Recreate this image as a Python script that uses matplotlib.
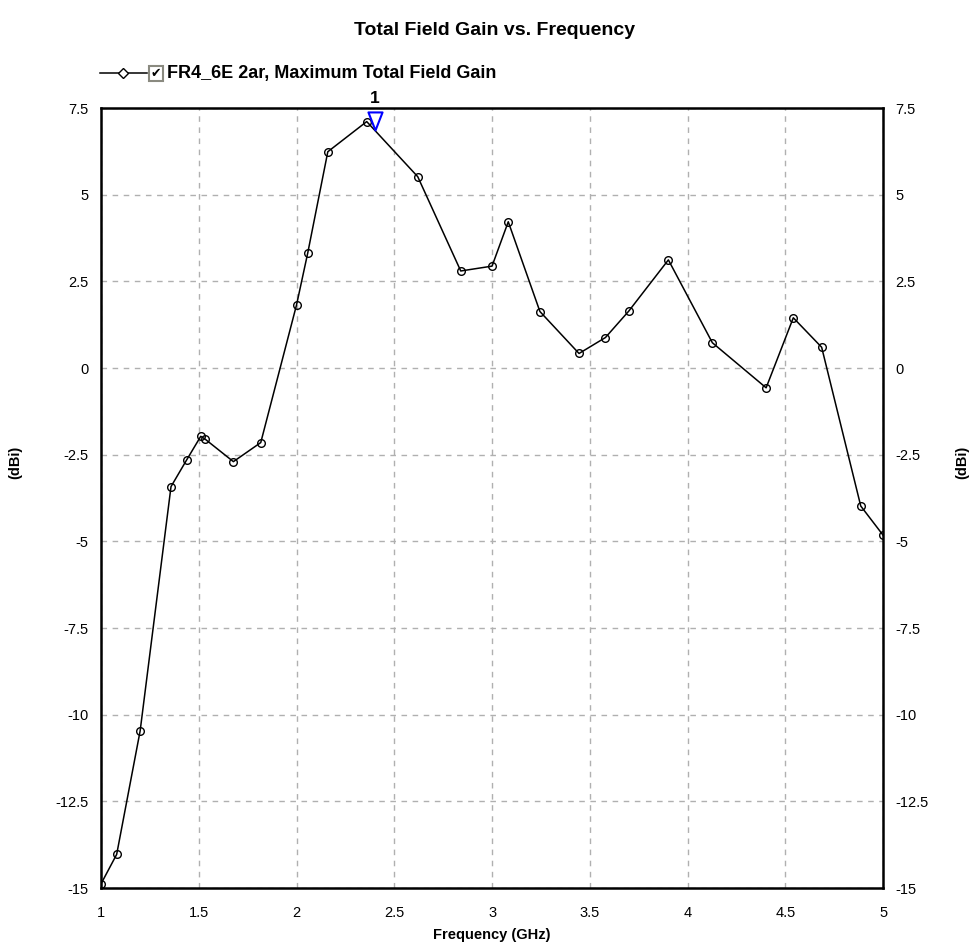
import numpy as np
import matplotlib
matplotlib.use("Agg")
import matplotlib.pyplot as plt
from matplotlib.patches import Rectangle
from matplotlib.lines import Line2D
from matplotlib.path import Path

plt.rcParams['font.family'] = ['Liberation Sans', 'DejaVu Sans']

# frequency sweep (GHz) and max total field gain (dBi)
freq = [1.0, 1.08, 1.2, 1.358, 1.438, 1.51, 1.53, 1.677, 1.817, 2.0, 2.057,
        2.16, 2.359, 2.62, 2.84, 3.0, 3.083, 3.245, 3.445, 3.58, 3.699,
        3.902, 4.127, 4.402, 4.541, 4.686, 4.886, 5.0]
gain = [-14.88, -14.03, -10.47, -3.42, -2.65, -1.97, -2.04, -2.70, -2.15, 1.82, 3.31,
        6.24, 7.11, 5.52, 2.80, 2.94, 4.22, 1.63, 0.42, 0.88, 1.64,
        3.12, 0.73, -0.57, 1.45, 0.60, -3.98, -4.82]

marker_freq = 2.4
marker_gain = np.interp(marker_freq, freq, gain)

xticks = [1, 1.5, 2, 2.5, 3, 3.5, 4, 4.5, 5]
xlabels = ['1', '1.5', '2', '2.5', '3', '3.5', '4', '4.5', '5']
yticks = [7.5, 5, 2.5, 0, -2.5, -5, -7.5, -10, -12.5, -15]
ylabels = ['7.5', '5', '2.5', '0', '-2.5', '-5', '-7.5', '-10', '-12.5', '-15']

fig = plt.figure(figsize=(9.78, 9.52), dpi=100)
ax = fig.add_axes([0.1033, 0.0672, 0.7996, 0.8193])

ax.plot(freq, gain, color='black', lw=1.1, marker='o', ms=5.5,
        mfc='none', mec='black', mew=1.0, zorder=3)

# marker 1: narrow down-pointing triangle with its tip on the trace
tri = Path([(0, 0), (-0.39, 1), (0.39, 1), (0, 0)],
           [Path.MOVETO, Path.LINETO, Path.LINETO, Path.CLOSEPOLY])
ax.plot([marker_freq], [marker_gain], marker=tri, ms=26, mfc='white',
        mec='blue', mew=1.5, clip_on=False, zorder=4)
ax.annotate('1', xy=(marker_freq, 7.5), xytext=(0, 1.5), textcoords='offset points',
            ha='center', va='bottom', fontsize=12.5, fontweight='bold',
            color='black', annotation_clip=False)

ax.set_xlim(1, 5)
ax.set_ylim(-15, 7.5)
ax.set_xticks(xticks)
ax.set_xticklabels(xlabels)
ax.set_yticks(yticks)
ax.set_yticklabels(ylabels)
ax.tick_params(length=0, labelsize=10.5, pad=9)
ax.tick_params(axis='x', pad=13)
ax.tick_params(axis='y', right=True, labelright=True)
ax.grid(True, color='#b0b0b0', ls=(0, (4, 4)), lw=1.0)
for s in ax.spines.values():
    s.set_linewidth(1.8)
    s.set_color('black')

ax.set_xlabel('Frequency (GHz)', fontsize=10.5, fontweight='bold', labelpad=6)
fig.text(0.016, 0.514, '(dBi)', rotation=90, ha='center', va='center',
         fontsize=10.5, fontweight='bold')
fig.text(0.984, 0.514, '(dBi)', rotation=90, ha='center', va='center',
         fontsize=10.5, fontweight='bold')

fig.text(0.506, 0.968, 'Total Field Gain vs. Frequency', ha='center', va='center',
         fontsize=14, fontweight='bold')

# legend row: line sample, checkbox and series name
fig.add_artist(Line2D([0.102, 0.150], [0.923, 0.923], color='black', lw=1.1,
                      transform=fig.transFigure))
fig.add_artist(Line2D([0.126], [0.923], color='black', marker='D', ms=5,
                      mfc='white', mew=1.0, transform=fig.transFigure))
fig.add_artist(Rectangle((0.152, 0.915), 0.0145, 0.016, fill=False,
                         edgecolor='#8a8a80', lw=1.5, transform=fig.transFigure))
fig.text(0.1593, 0.923, '\u2714', ha='center', va='center', fontsize=9,
         family=['DejaVu Sans'])
fig.text(0.171, 0.923, 'FR4_6E 2ar, Maximum Total Field Gain', ha='left',
         va='center', fontsize=13, fontweight='bold')

fig.savefig('out.png', dpi=100)
